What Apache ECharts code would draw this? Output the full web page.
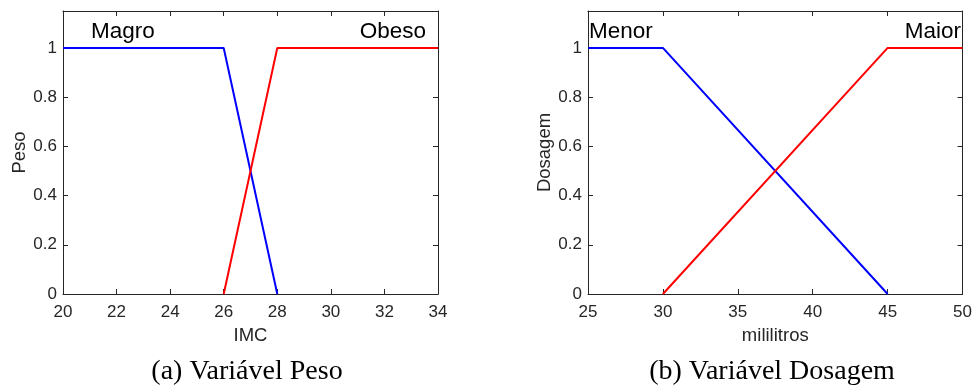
<!DOCTYPE html>
<html>
<head>
<meta charset="utf-8">
<script src="https://cdn.jsdelivr.net/npm/echarts@6/dist/echarts.min.js"></script>
<style>
  html, body { margin: 0; padding: 0; background: #fff; }
  #chart { width: 975px; height: 387px; }
</style>
</head>
<body>
<div id="chart"></div>
<script>
// (a) Peso
var magro = [[20, 1], [26, 1], [28, 0]];
var obeso = [[26, 0], [28, 1], [34, 1]];
// (b) Dosagem
var menor = [[25, 1], [30, 1], [45, 0]];
var maior = [[30, 0], [45, 1], [50, 1]];

var pesoRange = [20, 34, 2];
var dosRange = [25, 50, 5];
var yMax = 1.15;

var axisColor = "#262626";
var tickFont = { color: axisColor, fontSize: 17, fontFamily: "Liberation Sans" };
var nameFont = { color: axisColor, fontSize: 18.5, fontFamily: "Liberation Sans" };

function xAxes(range, gridIndex, name) {
    return [
        {
            type: "value", gridIndex: gridIndex, position: "bottom",
            min: range[0], max: range[1], interval: range[2],
            name: name, nameLocation: "middle", nameGap: 32,
            nameTextStyle: nameFont,
            axisLine: { onZero: false, lineStyle: { color: axisColor, width: 1 } },
            axisTick: { inside: true, length: 5, lineStyle: { color: axisColor } },
            axisLabel: Object.assign({ margin: 10 }, tickFont),
            splitLine: { show: false }
        },
        {
            type: "value", gridIndex: gridIndex, position: "top",
            min: range[0], max: range[1], interval: range[2],
            axisLine: { onZero: false, lineStyle: { color: axisColor, width: 1 } },
            axisTick: { inside: true, length: 5, lineStyle: { color: axisColor } },
            axisLabel: { show: false },
            splitLine: { show: false }
        }
    ];
}

function yAxes(gridIndex, name) {
    return [
        {
            type: "value", gridIndex: gridIndex, position: "left",
            min: 0, max: yMax, interval: 0.2,
            name: name, nameLocation: "middle", nameGap: 34, nameRotate: 90,
            nameTextStyle: nameFont,
            axisLine: { onZero: false, lineStyle: { color: axisColor, width: 1 } },
            axisTick: { inside: true, length: 5, lineStyle: { color: axisColor } },
            axisLabel: Object.assign({
                margin: 6,
                showMaxLabel: false,
                formatter: function (v) { return v > 1.01 ? "" : String(+v.toFixed(1)); }
            }, tickFont),
            splitLine: { show: false }
        },
        {
            type: "value", gridIndex: gridIndex, position: "right",
            min: 0, max: yMax, interval: 0.2,
            axisLine: { onZero: false, lineStyle: { color: axisColor, width: 1 } },
            axisTick: { inside: true, length: 5, lineStyle: { color: axisColor } },
            axisLabel: { show: false },
            splitLine: { show: false }
        }
    ];
}

function lineSeries(data, color, xi, yi) {
    return {
        type: "line", data: data, xAxisIndex: xi, yAxisIndex: yi,
        showSymbol: false, symbol: "none", animation: false,
        lineStyle: { color: color, width: 2 }
    };
}

var chart = echarts.init(document.getElementById("chart"));
var labelFont = { fill: "#000", fontSize: 22.5, fontFamily: "Liberation Sans" };
var capFont = { fill: "#000", fontSize: 28, fontFamily: "Liberation Serif", align: "center", verticalAlign: "middle" };

chart.setOption({
    backgroundColor: "#fff",
    animation: false,
    grid: [
        { left: 63, top: 11, width: 375, height: 283, containLabel: false },
        { left: 588, top: 11, width: 376, height: 283, containLabel: false }
    ],
    xAxis: xAxes(pesoRange, 0, "IMC").concat(xAxes(dosRange, 1, "mililitros")),
    yAxis: yAxes(0, "Peso").concat(yAxes(1, "Dosagem")),
    series: [
        lineSeries(magro, "#0000ff", 0, 0),
        lineSeries(obeso, "#ff0000", 0, 0),
        lineSeries(menor, "#0000ff", 2, 2),
        lineSeries(maior, "#ff0000", 2, 2)
    ],
    graphic: [
        { type: "text", left: 91, top: 20, style: Object.assign({ text: "Magro" }, labelFont) },
        { type: "text", right: 975 - 426, top: 20, style: Object.assign({ text: "Obeso" }, labelFont) },
        { type: "text", left: 589, top: 20, style: Object.assign({ text: "Menor" }, labelFont) },
        { type: "text", right: 975 - 961, top: 20, style: Object.assign({ text: "Maior" }, labelFont) },
        { type: "text", x: 247, y: 372, style: Object.assign({ text: "(a) Variável Peso" }, capFont) },
        { type: "text", x: 772, y: 372, style: Object.assign({ text: "(b) Variável Dosagem" }, capFont) }
    ]
});
</script>
</body>
</html>
